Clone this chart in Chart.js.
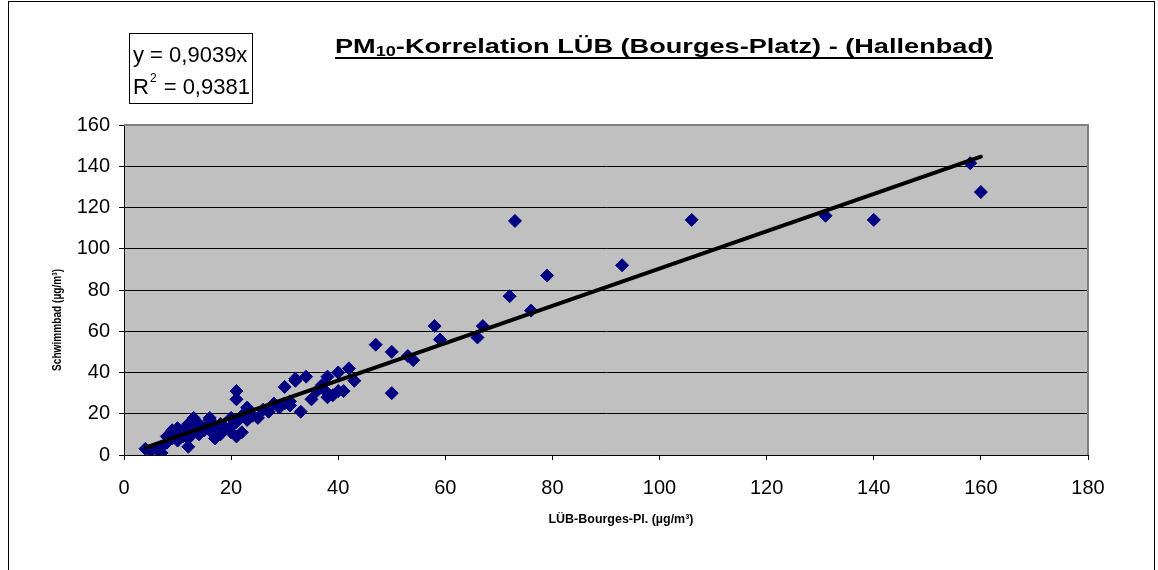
<!DOCTYPE html>
<html><head><meta charset="utf-8">
<script src="https://cdn.jsdelivr.net/npm/chart.js@4/dist/chart.umd.min.js"></script>
<style>html,body{margin:0;padding:0;background:#fff;}#wrap{width:1158px;height:570px;}</style>
</head><body><div id="wrap"><canvas id="c" width="1158" height="570"></canvas></div>
<script>
// ---- data ----
const xValues = [4,5,6,7,7,8,8,9,9,10,10,10,11,11,12,12,12,13,13,14,14,15,15,16,16,16,17,17,18,18,19,20,20,20,21,21,21,21,22,22,23,23,24,25,26,27,28,29,30,30,31,31,32,32,33,34,35,36,37,38,38,38,39,40,40,41,42,43,47,50,50,53,54,58,59,66,67,72,73,76,79,93,106,131,140,158,160];
const yValues = [3,2,3,1,4,6,9,8,12,10,13,7,9,12,4,8,15,11,18,10,15,13,12,12,18,17,8,14,10,15,13,14,11,18,9,31,27,16,11,19,23,17,19,18,22,21,25,23,33,25,26,24,37,36,21,38,27,31,34,38,28,30,29,31,40,31,42,36,53.5,50,30,48,46,62.5,56,57,62.5,77,113.5,70,87,92,114,116,114,141.5,127.5];
const xTicks = [0,20,40,60,80,100,120,140,160,180];
const yTicks = [0,20,40,60,80,100,120,140,160];
const trendSlope = 0.9039;
const trendLabel = 'y = 0,9039x';
const r2Label = '0,9381';
const titleParts = ['PM', '10', '-Korrelation LÜB (Bourges-Platz) - (Hallenbad)'];
const xTitle = 'LÜB-Bourges-Pl. (µg/m³)';
const yTitle = 'Schwimmbad (µg/m³)';

const points = xValues.map((x, i) => ({x, y: yValues[i]}));
const minX = Math.min(...xValues), maxX = Math.max(...xValues);
const trend = [{x: minX, y: trendSlope * minX}, {x: maxX, y: trendSlope * maxX}];

const FONT = '"Liberation Sans", Arial, sans-serif';

function fitText(ctx, text, x, y, targetW) {
  const w = ctx.measureText(text).width;
  ctx.save();
  ctx.translate(x, y);
  ctx.scale(targetW / w, 1);
  ctx.fillText(text, -w / 2, 0);
  ctx.restore();
}

const deco = {
  id: 'deco',
  beforeDraw(chart) {
    const {ctx, chartArea: a} = chart;
    ctx.save();
    ctx.fillStyle = '#fff';
    ctx.fillRect(0, 0, chart.width, chart.height);
    ctx.fillStyle = '#c0c0c0';
    ctx.fillRect(a.left, a.top, a.right - a.left, a.bottom - a.top);
    ctx.restore();
  },
  afterDraw(chart) {
    const {ctx, chartArea: a} = chart;
    ctx.save();
    // plot border top/right
    ctx.strokeStyle = '#808080';
    ctx.lineWidth = 2;
    ctx.beginPath();
    ctx.moveTo(a.left, a.top); ctx.lineTo(a.right, a.top); ctx.lineTo(a.right, a.bottom);
    ctx.stroke();
    // outer border
    ctx.strokeStyle = '#000';
    ctx.lineWidth = 1;
    ctx.strokeRect(8.5, 1.5, 1146, 620);
    // title
    ctx.fillStyle = '#000';
    ctx.textBaseline = 'alphabetic';
    ctx.textAlign = 'left';
    const big = 'bold 21px ' + FONT, small = 'bold 14px ' + FONT;
    ctx.font = big; const w1 = ctx.measureText(titleParts[0]).width;
    ctx.font = small; const w2 = ctx.measureText(titleParts[1]).width;
    ctx.font = big; const w3 = ctx.measureText(titleParts[2]).width;
    const tw = w1 + w2 + w3;
    ctx.save();
    ctx.translate(335, 53);
    ctx.scale(658 / tw, 1);
    ctx.font = big; ctx.fillText(titleParts[0], 0, 0);
    ctx.font = small; ctx.fillText(titleParts[1], w1, 3);
    ctx.font = big; ctx.fillText(titleParts[2], w1 + w2, 0);
    ctx.fillRect(0, 4, tw, 2);
    ctx.restore();
    // equation box
    ctx.strokeStyle = '#000';
    ctx.lineWidth = 1;
    ctx.strokeRect(129.5, 33.5, 123, 70);
    ctx.font = '22px ' + FONT;
    ctx.fillText(trendLabel, 133, 62);
    ctx.fillText('R', 133, 94);
    const rw = ctx.measureText('R').width;
    ctx.font = '12px ' + FONT;
    ctx.fillText('2', 133 + rw + 1, 82);
    const r2w = ctx.measureText('2').width;
    ctx.font = '22px ' + FONT;
    ctx.fillText(' = ' + r2Label, 133 + rw + r2w + 2, 94);
    // axis titles
    ctx.font = 'bold 13px ' + FONT;
    ctx.textAlign = 'left';
    ctx.textBaseline = 'alphabetic';
    fitText(ctx, xTitle, 621, 523, 145);
    ctx.translate(61, 320);
    ctx.rotate(-Math.PI / 2);
    fitText(ctx, yTitle, 0, 0, 102);
    ctx.restore();
  }
};

new Chart(document.getElementById('c'), {
  type: 'scatter',
  data: {
    datasets: [
      {label: 'Trend', data: trend, showLine: true, borderColor: '#000', borderWidth: 4,
       pointRadius: 0, order: 0, borderCapStyle: 'round'},
      {label: 'Daten', data: points, pointStyle: 'rectRot', pointRadius: 6.5,
       backgroundColor: '#000080', borderColor: '#000080', borderWidth: 1, order: 1}
    ]
  },
  options: {
    responsive: false, animation: false, devicePixelRatio: 1,
    layout: {padding: {left: 0, top: 125, right: 70, bottom: 0}},
    plugins: {legend: {display: false}, tooltip: {enabled: false}, title: {display: false}},
    scales: {
      x: {
        type: 'linear', min: 0, max: 180,
        afterBuildTicks: s => { s.ticks = xTicks.map(v => ({value: v})); },
        afterFit: s => { s.height = 115; },
        grid: {drawOnChartArea: false, drawTicks: true, tickLength: 5, color: '#000'},
        border: {color: '#000', width: 1},
        ticks: {color: '#000', font: {family: FONT, size: 20}, padding: 16, maxRotation: 0}
      },
      y: {
        type: 'linear', min: 0, max: 160,
        afterBuildTicks: s => { s.ticks = yTicks.map(v => ({value: v})); },
        afterFit: s => { s.width = 124; },
        grid: {drawOnChartArea: true, drawTicks: true, tickLength: 5, color: '#000', lineWidth: 1},
        border: {color: '#000', width: 1},
        ticks: {color: '#000', font: {family: FONT, size: 20}, padding: 9}
      }
    }
  },
  plugins: [deco]
});
</script></body></html>
